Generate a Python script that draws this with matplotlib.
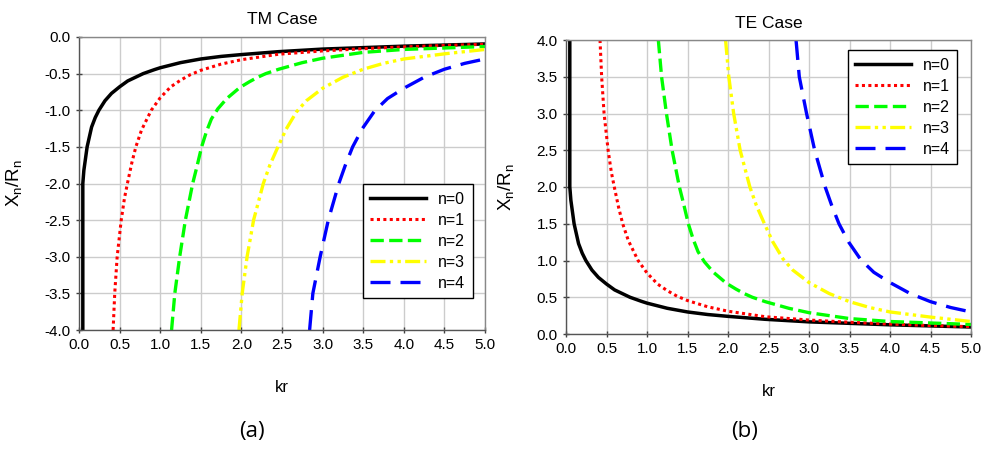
import matplotlib.pyplot as plt

plt.rcParams['font.family'] = ['Liberation Sans', 'DejaVu Sans']

# values (kr, X_n/R_n)
kr0 = [0.047, 0.047, 0.06, 0.08, 0.1, 0.155, 0.2, 0.245, 0.32, 0.4, 0.5, 0.6, 0.79, 0.93, 1.0,
       1.25, 1.5, 1.75, 2.0, 2.46, 3.0, 3.5, 4.0, 4.5, 5.0]
tm0 = [-4.0, -2.0, -1.82, -1.66, -1.5, -1.23, -1.1, -1.0, -0.87, -0.77, -0.68, -0.6, -0.5, -0.445, -0.42,
       -0.35, -0.3, -0.265, -0.24, -0.2, -0.165, -0.145, -0.125, -0.11, -0.095]

kr1 = [0.42, 0.44, 0.47, 0.52, 0.56, 0.6, 0.65, 0.7, 0.77, 0.89, 1.0, 1.13, 1.25, 1.37, 1.5,
       1.75, 2.0, 2.46, 3.0, 3.5, 4.0, 4.5, 5.0]
tm1 = [-4.0, -3.5, -3.0, -2.5, -2.2, -1.98, -1.72, -1.5, -1.27, -1.0, -0.83, -0.68, -0.59, -0.515, -0.455,
       -0.37, -0.31, -0.235, -0.19, -0.16, -0.135, -0.115, -0.1]

kr2 = [1.14, 1.18, 1.24, 1.31, 1.4, 1.45, 1.51, 1.57, 1.63, 1.71, 1.82, 1.98, 2.1, 2.2, 2.3, 2.46,
       2.75, 3.0, 3.5, 4.0, 4.5, 5.0]
tm2 = [-4.0, -3.5, -3.0, -2.5, -2.0, -1.78, -1.5, -1.29, -1.12, -0.98, -0.84, -0.69, -0.61, -0.55, -0.5, -0.44,
       -0.35, -0.29, -0.21, -0.17, -0.15, -0.13]

kr3 = [1.97, 2.01, 2.07, 2.15, 2.27, 2.35, 2.45, 2.55, 2.68, 2.8, 3.0, 3.25, 3.5, 3.75, 4.0, 4.5, 5.0]
tm3 = [-4.0, -3.5, -3.0, -2.5, -2.0, -1.75, -1.5, -1.26, -1.02, -0.87, -0.7, -0.55, -0.44, -0.36, -0.3, -0.23, -0.17]

kr4 = [2.84, 2.88, 2.97, 3.07, 3.2, 3.28, 3.37, 3.49, 3.64, 3.8, 4.0, 4.25, 4.5, 4.75, 5.0]
tm4 = [-4.0, -3.5, -3.0, -2.5, -2.0, -1.75, -1.5, -1.25, -1.01, -0.84, -0.7, -0.55, -0.44, -0.36, -0.3]

te0 = [4.0, 2.0, 1.82, 1.66, 1.5, 1.23, 1.1, 1.0, 0.87, 0.77, 0.68, 0.6, 0.5, 0.445, 0.42,
       0.35, 0.3, 0.265, 0.24, 0.2, 0.165, 0.145, 0.125, 0.11, 0.095]
te1 = [4.0, 3.5, 3.0, 2.5, 2.2, 1.98, 1.72, 1.5, 1.27, 1.0, 0.83, 0.68, 0.59, 0.515, 0.455,
       0.37, 0.31, 0.235, 0.19, 0.16, 0.135, 0.115, 0.1]
te2 = [4.0, 3.5, 3.0, 2.5, 2.0, 1.78, 1.5, 1.29, 1.12, 0.98, 0.84, 0.69, 0.61, 0.55, 0.5, 0.44,
       0.35, 0.29, 0.21, 0.17, 0.15, 0.13]
te3 = [4.0, 3.5, 3.0, 2.5, 2.0, 1.75, 1.5, 1.26, 1.02, 0.87, 0.7, 0.55, 0.44, 0.36, 0.3, 0.23, 0.17]
te4 = [4.0, 3.5, 3.0, 2.5, 2.0, 1.75, 1.5, 1.25, 1.01, 0.84, 0.7, 0.55, 0.44, 0.36, 0.3]

labels = ['n=0', 'n=1', 'n=2', 'n=3', 'n=4']
colors = ['black', 'red', '#00ff00', '#ffff00', 'blue']
styles = ['-', (0, (1, 1.1)), (0, (4, 1.6)), (0, (4.5, 1.3, 1, 1.3, 1, 1.3)), (0, (6, 3))]
widths = [2.5, 2.2, 2.4, 2.4, 2.4]

xs = [kr0, kr1, kr2, kr3, kr4]
tm = [tm0, tm1, tm2, tm3, tm4]
te = [te0, te1, te2, te3, te4]

fig = plt.figure(figsize=(9.85, 4.5), dpi=100)
W, H = 985, 450
ax1 = fig.add_axes([79 / W, 1 - 330 / H, 406 / W, 293 / H])
ax2 = fig.add_axes([566 / W, 1 - 334 / H, 405 / W, 294 / H])


def style_axes(ax, ylim, anchor, label_x):
    ax.set_xlim(0, 5)
    ax.set_ylim(*ylim)
    ax.set_xticks([i * 0.5 for i in range(11)])
    ax.set_xticklabels(['%.1f' % (i * 0.5) for i in range(11)])
    ax.grid(True, color='#cccccc', lw=1.0)
    ax.set_axisbelow(True)
    for s in ax.spines.values():
        s.set_color('#555555')
        s.set_linewidth(1.0)
    ax.spines['top'].set_color('#888888')
    ax.spines['right'].set_color('#888888')
    ax.tick_params(direction='inout', length=5, width=1, colors='#404040', labelcolor='black', labelsize=11)
    ax.set_xlabel('kr', fontsize=12, labelpad=20)
    ax.set_ylabel('X$_\\mathregular{n}$/R$_\\mathregular{n}$', fontsize=13.5)
    ax.yaxis.set_label_coords(label_x, 0.5)
    leg = ax.legend(loc='lower left', bbox_to_anchor=anchor, fontsize=11.5, handlelength=3.5, fancybox=False,
                    framealpha=1, edgecolor='black', borderpad=0.45, labelspacing=0.38,
                    handletextpad=0.75, borderaxespad=0)
    leg.get_frame().set_linewidth(1.0)


for i in range(5):
    ax1.plot(xs[i], tm[i], color=colors[i], ls=styles[i], lw=widths[i], label=labels[i])
    ax2.plot(xs[i], te[i], color=colors[i], ls=styles[i], lw=widths[i], label=labels[i])

ax1.set_title('TM Case', fontsize=12.5, pad=9)
ax2.set_title('TE Case', fontsize=12.5, pad=9)
style_axes(ax1, (-4, 0), (0.70, 0.109), -0.133)
style_axes(ax2, (0, 4), (0.696, 0.578), -0.121)
ax1.set_yticks([-4 + 0.5 * i for i in range(9)])
ax1.set_yticklabels(['%.1f' % (-4 + 0.5 * i) for i in range(9)])
ax2.set_yticks([0.5 * i for i in range(9)])
ax2.set_yticklabels(['%.1f' % (0.5 * i) for i in range(9)])

fig.text(252 / W, 1 - 432 / H, '(a)', fontsize=16, ha='center', va='center', family=['Open Sans', 'DejaVu Sans'])
fig.text(745 / W, 1 - 432 / H, '(b)', fontsize=16, ha='center', va='center', family=['Open Sans', 'DejaVu Sans'])

fig.savefig('out.png', dpi=100)
